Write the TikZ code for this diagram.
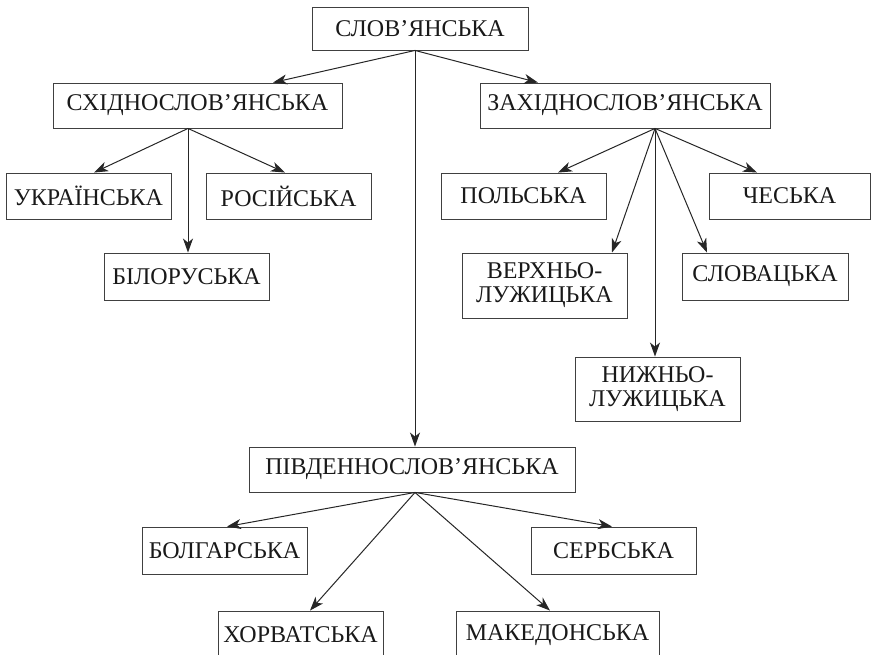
\documentclass[tikz,border=0pt]{standalone}
\usepackage{fontspec}
\setmainfont{Liberation Serif}
\usetikzlibrary{arrows.meta}
\begin{document}
\begin{tikzpicture}[x=1pt,y=-1pt,
  box/.style={draw=black!75, line width=0.9pt, inner sep=0pt, align=center,
    font=\fontsize{24}{24}\selectfont, text=black!90},
  arr/.style={draw=black!85, line width=1pt, -{Stealth[length=14pt,width=10pt,inset=4pt]}}]
\useasboundingbox (0,0) rectangle (871,655);
\node[box, minimum width=216, minimum height=43] (slov) at (420,28.5) {СЛОВ’ЯНСЬКА};
\node[box, minimum width=289, minimum height=45] (east) at (197.5,105.5) {СХІДНОСЛОВ’ЯНСЬКА};
\node[box, minimum width=290, minimum height=45] (west) at (625,105.5) {ЗАХІДНОСЛОВ’ЯНСЬКА};
\node[box, minimum width=165, minimum height=46] (ukr) at (88.5,196) {УКРАЇНСЬКА};
\node[box, minimum width=165, minimum height=46] (rus) at (288.5,196) {РОСІЙСЬКА};
\node[box, minimum width=165, minimum height=47] (bil) at (186.5,276.5) {БІЛОРУСЬКА};
\node[box, minimum width=165, minimum height=46] (pol) at (523.5,196) {ПОЛЬСЬКА};
\node[box, minimum width=161, minimum height=46] (ches) at (789.5,196) {ЧЕСЬКА};
\node[box, minimum width=165, minimum height=65] (verkh) at (544.5,285.5) {ВЕРХНЬО-\\ЛУЖИЦЬКА};
\node[box, minimum width=166, minimum height=47] (slovak) at (765,276.5) {СЛОВАЦЬКА};
\node[box, minimum width=165, minimum height=64] (nyzh) at (657.5,389) {НИЖНЬО-\\ЛУЖИЦЬКА};
\node[box, minimum width=326, minimum height=45] (south) at (412,469.5) {ПІВДЕННОСЛОВ’ЯНСЬКА};
\node[box, minimum width=165, minimum height=47] (bolg) at (224.5,550.5) {БОЛГАРСЬКА};
\node[box, minimum width=165, minimum height=47] (serb) at (613.5,550.5) {СЕРБСЬКА};
\node[box, minimum width=165, minimum height=48] (khorv) at (300.5,635) {ХОРВАТСЬКА};
\node[box, minimum width=203, minimum height=48] (maked) at (557.5,635) {МАКЕДОНСЬКА};
% connectors
\draw[arr] ([xshift=-5pt]slov.south) -- ([xshift=75.5pt]east.north);
\draw[arr] ([xshift=-5pt]slov.south) -- ([xshift=-87pt]west.north);
\draw[arr] ([xshift=-5pt]slov.south) -- ([xshift=3pt]south.north);
\draw[arr] ([xshift=-9.5pt]east.south) -- ([xshift=5.5pt]ukr.north);
\draw[arr] ([xshift=-9.5pt]east.south) -- ([xshift=-3.5pt]rus.north);
\draw[arr] ([xshift=-9.5pt]east.south) -- ([xshift=1.5pt]bil.north);
\draw[arr] ([xshift=30pt]west.south) -- ([xshift=34.5pt]pol.north);
\draw[arr] ([xshift=30pt]west.south) -- ([xshift=-32.5pt]ches.north);
\draw[arr] ([xshift=30pt]west.south) -- ([xshift=67.5pt]verkh.north);
\draw[arr] ([xshift=30pt]west.south) -- ([xshift=-58pt]slovak.north);
\draw[arr] ([xshift=30pt]west.south) -- ([xshift=-2.5pt]nyzh.north);
\draw[arr] ([xshift=3pt]south.south) -- ([xshift=2.5pt]bolg.north);
\draw[arr] ([xshift=3pt]south.south) -- ([xshift=-1.5pt]serb.north);
\draw[arr] ([xshift=3pt]south.south) -- ([xshift=9.5pt]khorv.north);
\draw[arr] ([xshift=3pt]south.south) -- ([xshift=-7.5pt]maked.north);
\end{tikzpicture}
\end{document}
